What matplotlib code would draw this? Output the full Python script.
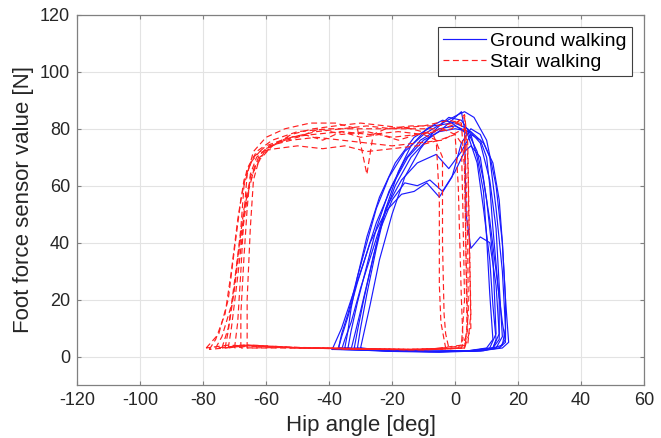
import matplotlib
matplotlib.use('Agg')
import matplotlib.pyplot as plt

plt.rcParams['font.family'] = ['Liberation Sans', 'DejaVu Sans']
plt.rcParams['axes.unicode_minus'] = False

# ground walking loops (hip angle, foot force)
ground_x = [
    [-37, -36, -34, -31, -28, -24, -19, -13, -7, -1, 4, 7, 9, 11, 12, 13, 12, 6, -5, -20, -37],
    [-35, -34, -33, -31, -28, -25, -21, -16, -10, -4, 1, 3, 6, 10, 13, 15, 16, 16, 14, 8, -5, -20, -35],
    [-33, -32, -30, -27, -24, -20, -16, -12, -8, -4, 0, 3, 5, 8, 10, 12, 13, 11, 5, -8, -22, -33],
    [-31, -30, -28, -25, -22, -18, -14, -9, -4, 0, 4, 8, 11, 13, 14, 15, 13, 7, -5, -18, -31],
    [-36, -35, -33, -30, -26, -22, -17, -12, -6, -2, 2, 5, 8, 10, 11, 12, 14, 14, 12, 4, -10, -24, -36],
    [-34, -33, -31, -28, -25, -21, -16, -11, -5, 0, 4, 7, 9, 11, 13, 15, 16, 14, 6, -8, -22, -34],
    [-30, -29, -27, -24, -20, -16, -11, -6, -2, 2, 5, 7, 9, 10, 11, 12, 10, 4, -8, -20, -30],
    [-37, -36, -34, -31, -27, -22, -17, -13, -9, -5, -1, 2, 5, 8, 11, 13, 15, 16, 15, 9, -5, -20, -37],
    [-32, -31, -29, -26, -23, -19, -14, -9, -4, 0, 2, 3, 3.5, 5, 8, 11, 13, 14, 12, 5, -8, -20, -32],
    [-39, -38, -36, -33, -29, -25, -20, -15, -10, -5, 0, 5, 9, 12, 14, 15, 16, 17, 15, 8, -6, -22, -39],
]
ground_y = [
    [3, 8, 15, 28, 42, 56, 68, 77, 81, 82, 78, 68, 52, 34, 18, 6, 3, 2, 1.8, 2.2, 3],
    [3, 9, 17, 28, 40, 52, 63, 72, 78, 82, 85, 86, 84, 76, 60, 40, 20, 6, 3, 2, 1.5, 1.8, 3],
    [2.5, 7, 16, 30, 44, 55, 61, 60, 62, 58, 65, 72, 74, 70, 55, 35, 8, 3, 2, 1.8, 2, 2.5],
    [3, 10, 22, 38, 52, 65, 74, 80, 83, 82, 80, 75, 62, 45, 25, 7, 3, 2, 1.7, 2, 3],
    [2.5, 6, 12, 24, 38, 52, 62, 68, 71, 66, 72, 78, 76, 70, 60, 45, 20, 6, 3, 2, 1.8, 2, 2.5],
    [3, 9, 19, 32, 45, 58, 69, 76, 80, 81, 79, 72, 62, 48, 30, 12, 5, 3, 2, 1.7, 2, 3],
    [3, 8, 18, 34, 50, 63, 73, 80, 84, 83, 78, 70, 58, 42, 22, 6, 3, 2, 1.8, 2, 3],
    [3, 7, 14, 26, 40, 51, 57, 58, 61, 56, 63, 75, 80, 78, 70, 52, 30, 10, 4, 2, 1.8, 2, 3],
    [3, 9, 20, 35, 48, 60, 70, 76, 80, 84, 86, 80, 50, 38, 42, 40, 25, 8, 3, 2, 1.8, 2, 3],
    [2.5, 5, 10, 20, 33, 47, 60, 70, 76, 79, 80, 79, 75, 68, 55, 40, 20, 5, 3, 2, 1.7, 2, 2.5],
]

# stair walking loops
stair_x = [
    [-79, -75, -72, -70, -68, -66, -63, -58, -50, -40, -30, -20, -10, -2, 2, 3, 3.5, 4, 3, -5, -20, -35, -50, -62, -72, -79],
    [-74, -72, -70, -68, -67, -65, -62, -57, -50, -42, -35, -28, -20, -12, -5, 0, 2, 2.5, 3, 2, -8, -25, -45, -60, -68, -74],
    [-70, -69, -68, -67, -66, -64, -60, -54, -46, -38, -31, -28, -26, -22, -14, -6, 0, 3, 4, 4.5, 5, 3, -10, -30, -50, -65, -70],
    [-76, -74, -71, -69, -67, -64, -60, -53, -45, -36, -27, -18, -10, -6, -5, -5, -4.5, -3, -12, -30, -50, -66, -76],
    [-72, -71, -69, -67, -65, -62, -57, -50, -43, -36, -28, -20, -12, -4, 0, 1, 1.5, 2, 2.5, 1, -15, -35, -55, -66, -72],
    [-68, -68, -67, -66, -65, -63, -59, -52, -44, -36, -28, -20, -12, -4, 1, 3, 3.5, 4, 4.2, 3, -12, -32, -52, -68],
    [-78, -76, -73, -71, -69, -67, -64, -60, -55, -48, -42, -36, -30, -24, -18, -12, -6, -1, 3, 4, 4.5, 5, 4, -8, -28, -48, -64, -78],
    [-73, -72, -70, -68, -66, -63, -58, -52, -45, -38, -30, -22, -14, -7, -4, -4, -3.5, -3, -2, -15, -35, -55, -67, -73],
    [-66, -66, -65, -64, -62, -58, -52, -44, -36, -28, -20, -12, -4, 1, 3, 3.2, 3.5, 3.8, 2, -15, -40, -66],
]
stair_y = [
    [3, 8, 20, 38, 55, 66, 72, 76, 79, 80, 80, 80, 81, 83, 82, 65, 35, 10, 3, 2.5, 2.5, 2.8, 3, 3.5, 4, 3],
    [3, 10, 25, 45, 60, 68, 72, 73, 74, 73, 74, 72, 73, 74, 76, 78, 75, 50, 20, 4, 2.5, 2.5, 3, 3.5, 4, 3],
    [3, 12, 30, 50, 64, 72, 77, 80, 82, 82, 80, 64, 78, 80, 81, 81, 82, 84, 70, 40, 10, 3, 2.3, 2.6, 3, 3.8, 3],
    [3, 7, 18, 35, 52, 65, 73, 77, 78, 79, 78, 79, 78, 76, 55, 25, 12, 3, 2.5, 2.8, 3.2, 4, 3],
    [3, 10, 28, 48, 63, 71, 75, 77, 80, 78, 79, 77, 78, 80, 78, 60, 40, 20, 6, 3, 2.4, 2.7, 3.2, 4, 3],
    [3, 15, 35, 52, 64, 70, 74, 76, 77, 76, 75, 74, 75, 76, 79, 80, 62, 40, 15, 3, 2.4, 2.7, 3.2, 3],
    [2.5, 6, 15, 30, 48, 62, 70, 74, 76, 78, 76, 79, 77, 78, 76, 78, 79, 80, 85, 75, 45, 15, 4, 2.4, 2.6, 3, 4, 2.5],
    [3, 9, 24, 42, 58, 68, 74, 78, 80, 81, 82, 81, 80, 78, 70, 40, 15, 8, 3, 2.4, 2.8, 3.2, 4, 3],
    [3, 20, 45, 62, 70, 74, 77, 79, 80, 81, 80, 80, 80, 82, 80, 55, 30, 8, 3, 2.5, 3, 3],
]

fig = plt.figure(figsize=(6.61, 4.38), dpi=100)
ax = fig.add_axes([0.1165, 0.121, 0.858, 0.845])

for i in range(len(ground_x)):
    ax.plot(ground_x[i], ground_y[i], color='#1a1aff', lw=0.85,
            label='Ground walking' if i == 0 else None)
for i in range(len(stair_x)):
    ax.plot(stair_x[i], stair_y[i], color='#ff2020', lw=0.85, linestyle=(0, (5, 3)),
            label='Stair walking' if i == 0 else None)

ax.set_xlim(-120, 60)
ax.set_ylim(-10, 120)
ax.set_xticks(range(-120, 61, 20))
ax.set_yticks(range(0, 121, 20))
ax.grid(True, color='#e3e3e3', lw=0.8)
ax.set_axisbelow(True)
ax.tick_params(direction='in', top=True, right=True, labelsize=13, length=3,
               color='#808080', labelcolor='#262626', pad=5)
for s in ax.spines.values():
    s.set_color('#808080')
    s.set_linewidth(0.9)

ax.set_xlabel('Hip angle [deg]', fontsize=16, color='#262626')
ax.set_ylabel('Foot force sensor value [N]', fontsize=16, color='#262626')

leg = ax.legend(loc='upper right', fontsize=14, fancybox=False, framealpha=1,
                edgecolor='#404040', borderaxespad=0.6, handlelength=2.2, handletextpad=0.2,
                labelspacing=0.15, borderpad=0.3)
leg.get_frame().set_linewidth(0.8)

fig.savefig('out.png', dpi=100)
